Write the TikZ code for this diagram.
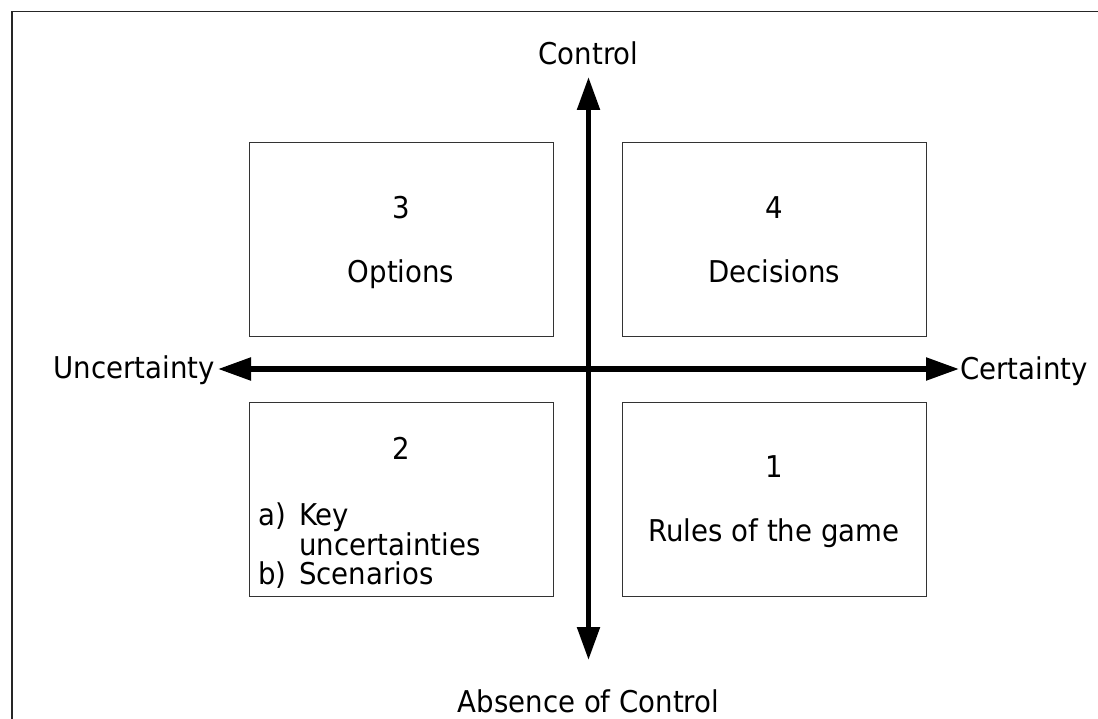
\documentclass[tikz,border=0pt]{standalone}
\usepackage{fontspec}
\setmainfont{DejaVu Sans}[FakeStretch=0.92]
\usetikzlibrary{arrows.meta}
\begin{document}
\begin{tikzpicture}[x=1pt,y=-1pt,
  frameline/.style={line width=1.6pt, black!85},
  quad/.style={draw=black!80, line width=1.3pt, minimum width=304pt, minimum height=194pt, inner sep=0, anchor=north west},
  axis/.style={line width=5.3pt, {Triangle[length=33pt,width=22pt]}-{Triangle[length=33pt,width=22pt]}},
  lbl/.style={inner sep=0, anchor=base, font=\fontsize{30}{36}\selectfont},
  lblw/.style={lbl, anchor=base west},
  lble/.style={lbl, anchor=base east}]
\useasboundingbox (0,0) rectangle (1098,719);

% open frame (top and left edges)
\draw[frameline] (12,719) -- (12,11.5) -- (1098,11.5);

% quadrant boxes
\node[quad] (q3) at (249,142) {};
\node[quad] (q4) at (622,142) {};
\node[quad] (q2) at (249,402) {};
\node[quad] (q1) at (622,402) {};

% axes
\coordinate (ctop) at (588.5,77);
\coordinate (cbot) at (588.5,660);
\coordinate (uleft) at (218,369);
\coordinate (cright) at (959,369);
\draw[axis] (uleft) -- (cright);
\draw[axis] (ctop) -- (cbot);

% axis labels
\node[lbl] (lcontrol) at (588.5,65) {Control};
\node[lbl] (labsence) at (588.5,712) {Absence of Control};
\node[lble] (luncert) at (215,378) {Uncertainty};
\node[lblw] (lcert) at (960,379) {Certainty};

% quadrant 3
\node[lbl] (n3) at (401,219) {3};
\node[lbl] (t3) at (401,283) {Options};
% quadrant 4
\node[lbl] (n4) at (774,219) {4};
\node[lbl] (t4) at (774,283) {Decisions};
% quadrant 2
\node[lbl] (n2) at (401,459) {2};
\node[lblw] (t2a) at (258,525) {a)};
\node[lblw] (t2b) at (299,525) {Key};
\node[lblw] (t2c) at (299,555) {uncertainties};
\node[lblw] (t2d) at (258,584) {b)};
\node[lblw] (t2e) at (299,584) {Scenarios};
% quadrant 1
\node[lbl] (n1) at (774,477) {1};
\node[lbl] (t1) at (774,541) {Rules of the game};
\end{tikzpicture}
\end{document}
